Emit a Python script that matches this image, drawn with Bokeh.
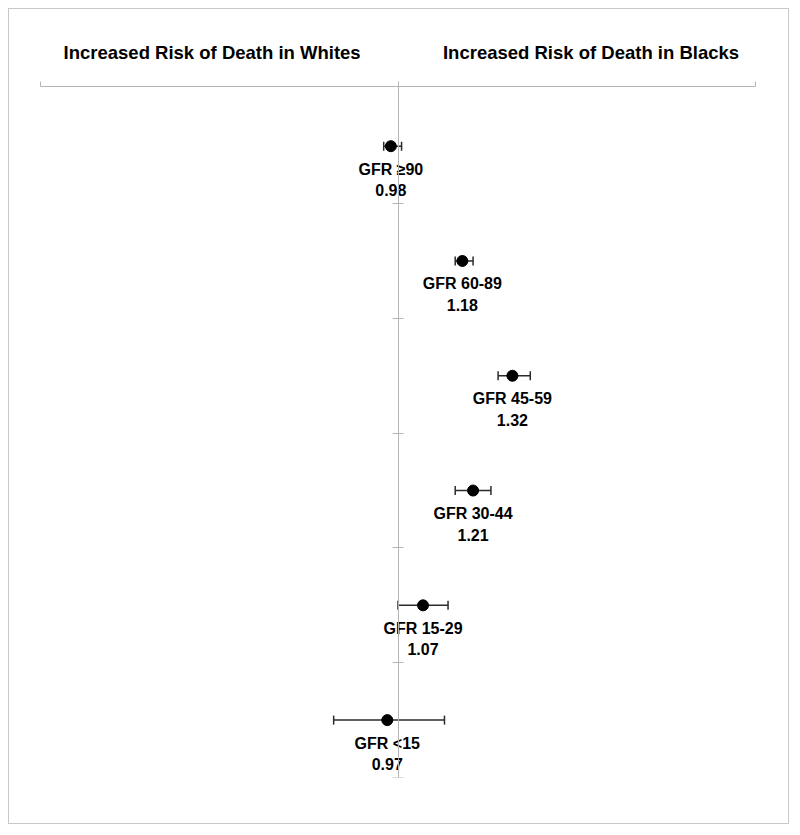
from bokeh.plotting import figure
from bokeh.models import (ColumnDataSource, Range1d, FixedTicker, Whisker, TeeHead)
from bokeh.core.properties import value
from bokeh.embed import file_html
from bokeh.resources import INLINE
import numpy as np

# ---- data ----
groups = ["GFR \u226590", "GFR 60-89", "GFR 45-59", "GFR 30-44", "GFR 15-29", "GFR <15"]
hazard_ratio = [0.98, 1.18, 1.32, 1.21, 1.07, 0.97]
ci_lower = [0.96, 1.16, 1.28, 1.16, 1.00, 0.82]
ci_upper = [1.01, 1.21, 1.37, 1.26, 1.14, 1.13]
header_left = "Increased Risk of Death in Whites"
header_right = "Increased Risk of Death in Blacks"
header_ticks = [0.48, 1.54]
x_ticks_minor = [0, 1, 2]

n = len(groups)
row_pos = np.arange(n) + 0.5
row_bounds = list(range(1, n + 1))

src = ColumnDataSource(dict(
    y=row_pos, hr=hazard_ratio, lo=ci_lower, hi=ci_upper,
    name=groups, val=[f"{v:.2f}" for v in hazard_ratio],
))

FONT = "Liberation Sans"
AXIS_COL = "#b4b4b4"

p = figure(width=781, height=816, output_backend="svg", toolbar_location=None,
           x_range=Range1d(0, 2), y_range=Range1d(6, -0.02),
           x_axis_location="above", min_border_left=31, min_border_right=35,
           min_border_top=77, min_border_bottom=48)
p.styles = {"border": "1px solid #c8c8c8", "margin-left": "8px", "margin-top": "8px"}
p.outline_line_color = None
p.grid.visible = False
p.background_fill_color = "white"
p.border_fill_color = "white"

# top axis carrying the two headers
xa = p.xaxis[0]
xa.ticker = FixedTicker(ticks=header_ticks, minor_ticks=x_ticks_minor)
xa.major_label_overrides = {header_ticks[0]: header_left, header_ticks[1]: header_right}
xa.major_tick_line_color = None
xa.major_tick_out = 0
xa.major_tick_in = 0
xa.minor_tick_out = 5
xa.minor_tick_in = 0
xa.minor_tick_line_color = AXIS_COL
xa.axis_line_color = AXIS_COL
xa.major_label_standoff = 19
xa.major_label_text_font = FONT
xa.major_label_text_font_style = "bold"
xa.major_label_text_font_size = "18.5px"
xa.major_label_text_color = "black"

# vertical reference axis at HR = 1
ya = p.yaxis[0]
ya.fixed_location = 1
ya.ticker = FixedTicker(ticks=row_bounds, minor_ticks=[])
ya.major_label_overrides = {b: "" for b in row_bounds}
ya.axis_line_color = AXIS_COL
ya.major_tick_line_color = AXIS_COL
ya.major_tick_out = 6
ya.major_tick_in = 5
ya.minor_tick_line_color = None

# error bars
whisk = Whisker(base="y", lower="lo", upper="hi", dimension="width", source=src,
                line_color="#2b2b2b", line_width=1.5,
                lower_head=TeeHead(size=9, line_color="#2b2b2b", line_width=1.5),
                upper_head=TeeHead(size=9, line_color="#2b2b2b", line_width=1.5))
p.add_layout(whisk)

p.scatter(x="hr", y="y", source=src, size=11, color="black")

p.text(x="hr", y="y", text="name", source=src, y_offset=23,
       text_align="center", text_baseline="middle",
       text_font=value(FONT), text_font_style="bold", text_font_size="16px",
       text_color="black")
p.text(x="hr", y="y", text="val", source=src, y_offset=44,
       text_align="center", text_baseline="middle",
       text_font=value(FONT), text_font_style="bold", text_font_size="16px",
       text_color="black")

open("out.html", "w").write(file_html(p, INLINE))
